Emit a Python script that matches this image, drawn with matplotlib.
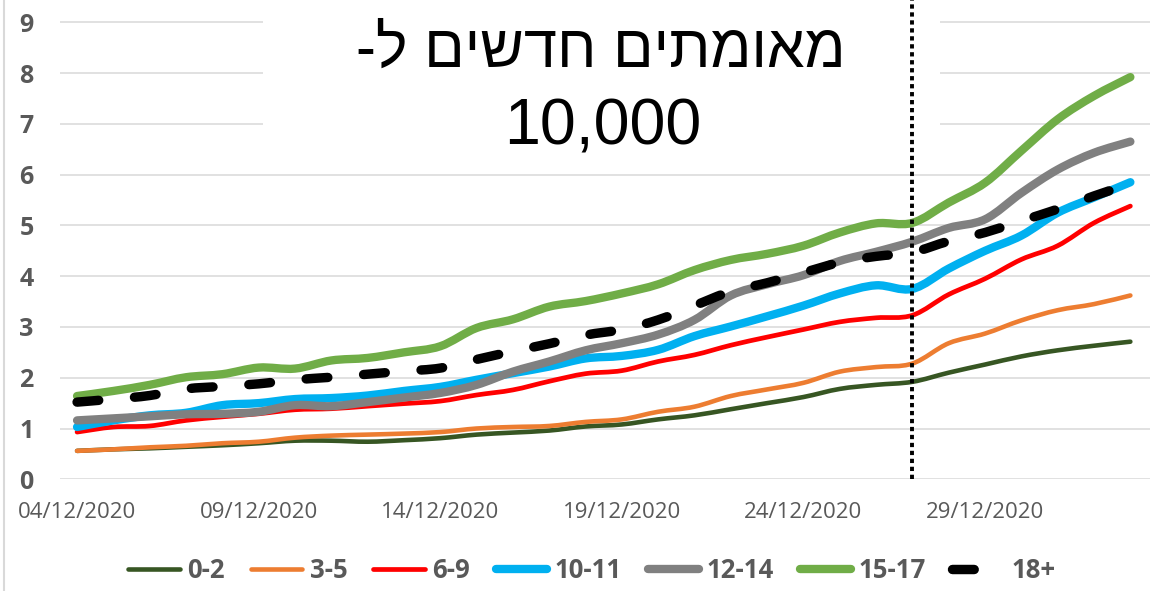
import numpy as np
import pandas as pd
import matplotlib
matplotlib.use("Agg")
import matplotlib.pyplot as plt
from matplotlib.lines import Line2D
from matplotlib.patches import Rectangle, PathPatch
from matplotlib.path import Path

# new confirmed cases per 10,000, by age group (Dec 2020 - Jan 2021)
dates = pd.date_range("2020-12-04", periods=30)
date_labels = [d.strftime("%d/%m/%Y") for d in dates]

groups = ["0-2", "3-5", "6-9", "10-11", "12-14", "15-17", "18+"]

age_0_2 = [0.56, 0.59, 0.61, 0.64, 0.67, 0.71, 0.76, 0.76, 0.74, 0.77,
           0.81, 0.88, 0.92, 0.96, 1.04, 1.08, 1.18, 1.26, 1.38, 1.50,
           1.62, 1.78, 1.86, 1.92, 2.10, 2.26, 2.42, 2.54, 2.63, 2.71]
age_3_5 = [0.56, 0.59, 0.63, 0.66, 0.71, 0.74, 0.82, 0.86, 0.88, 0.90,
           0.93, 1.00, 1.03, 1.05, 1.13, 1.18, 1.33, 1.43, 1.64, 1.77,
           1.90, 2.12, 2.21, 2.28, 2.68, 2.87, 3.13, 3.33, 3.45, 3.62]
age_6_9 = [0.93, 1.03, 1.05, 1.16, 1.23, 1.29, 1.37, 1.39, 1.44, 1.49,
           1.54, 1.66, 1.76, 1.93, 2.08, 2.14, 2.32, 2.45, 2.64, 2.80,
           2.95, 3.10, 3.18, 3.23, 3.64, 3.95, 4.33, 4.60, 5.05, 5.38]
age_10_11 = [1.03, 1.16, 1.26, 1.31, 1.46, 1.50, 1.58, 1.60, 1.65, 1.74,
             1.82, 1.96, 2.09, 2.22, 2.38, 2.43, 2.55, 2.82, 3.01, 3.21,
             3.42, 3.66, 3.82, 3.75, 4.15, 4.50, 4.80, 5.25, 5.55, 5.85]
age_12_14 = [1.16, 1.20, 1.24, 1.28, 1.29, 1.33, 1.46, 1.44, 1.52, 1.61,
             1.70, 1.86, 2.12, 2.32, 2.54, 2.68, 2.85, 3.14, 3.62, 3.84,
             4.02, 4.30, 4.48, 4.68, 4.95, 5.12, 5.64, 6.10, 6.43, 6.65]
age_15_17 = [1.64, 1.74, 1.86, 2.01, 2.07, 2.20, 2.18, 2.34, 2.39, 2.50,
             2.62, 2.98, 3.15, 3.40, 3.51, 3.66, 3.84, 4.12, 4.32, 4.44,
             4.60, 4.86, 5.04, 5.05, 5.45, 5.84, 6.47, 7.09, 7.55, 7.92]
age_18_plus = [1.52, 1.58, 1.65, 1.78, 1.83, 1.88, 1.96, 2.01, 2.07, 2.13,
               2.19, 2.36, 2.52, 2.67, 2.84, 2.95, 3.14, 3.42, 3.70, 3.87,
               4.07, 4.27, 4.39, 4.47, 4.69, 4.86, 5.09, 5.32, 5.58, 5.82]

series = [age_0_2, age_3_5, age_6_9, age_10_11, age_12_14, age_15_17, age_18_plus]
colors = ["#375623", "#ED7D31", "#FF0000", "#00B0F0", "#808080", "#70AD47", "#000000"]
widths = [3.3, 3.3, 3.4, 6.0, 6.0, 6.0, 6.8]

marker_day = "2020-12-27"   # dotted vertical line
title_he = "מאומתים חדשים ל-"
title_num = "10,000"

txt_gray = "#595959"
grid_gray = "#D9D9D9"


def smooth_path(xs, ys):
    # excel-like smoothed line: cubic bezier through every data point
    pts = np.column_stack([xs, ys]).astype(float)
    n = len(pts)
    verts = [pts[0]]
    codes = [Path.MOVETO]
    for i in range(n - 1):
        p0 = pts[max(i - 1, 0)]
        p1 = pts[i]
        p2 = pts[i + 1]
        p3 = pts[min(i + 2, n - 1)]
        verts += [p1 + (p2 - p0) / 6, p2 - (p3 - p1) / 6, p2]
        codes += [Path.CURVE4] * 3
    return Path(verts, codes)


plt.rcParams["font.family"] = ["Open Sans", "DejaVu Sans"]

fig = plt.figure(figsize=(11.65, 5.91), dpi=100)
ax = fig.add_axes([0.0515, 0.189, 0.9356, 0.812])

x = np.arange(len(dates))
handles = []
for vals, col, lw, name in zip(series, colors, widths, groups):
    if name == "18+":
        ls = (0, (2.3, 3.8))
        z = 4
    else:
        ls = "-"
        z = 3
    pp = PathPatch(smooth_path(x, vals), fill=False, edgecolor=col, lw=lw,
                   linestyle=ls, capstyle="round", joinstyle="round", zorder=z)
    ax.add_patch(pp)
    h = Line2D([], [], color=col, lw=lw, linestyle=ls,
               solid_capstyle="round", dash_capstyle="round")
    handles.append(h)

mx = list(dates).index(pd.Timestamp(marker_day))
ax.axvline(mx, color="black", lw=2.8, dashes=(1.1, 0.95), zorder=5)

ax.set_xlim(-0.47, 29.54)
ax.set_ylim(0, 9.45)
ax.set_yticks(range(0, 10))
ax.set_xticks(x[::5])
ax.set_xticklabels(date_labels[::5])
ax.tick_params(axis="x", length=0, pad=16, labelsize=16, labelcolor=txt_gray)
ax.tick_params(axis="y", length=0, pad=19, labelsize=18, labelcolor=txt_gray)
for lab in ax.get_yticklabels():
    lab.set_fontweight("bold")
ax.grid(axis="y", color=grid_gray, lw=1.1)
ax.set_axisbelow(True)
for s in ax.spines.values():
    s.set_visible(False)

# white box behind the title hides the upper gridlines
ax.add_patch(Rectangle((0.186, 0.686), 0.621, 0.32, transform=ax.transAxes,
                       facecolor="white", edgecolor="none", zorder=1.5, clip_on=False))

tfont = ["Liberation Sans", "DejaVu Sans"]
fig.text(0.516, 0.8866, title_he[::-1], ha="center", va="baseline",
         fontsize=43, family=tfont, color="black", zorder=10)
fig.text(0.517, 0.7563, title_num, ha="center", va="baseline",
         fontsize=46.5, family=tfont, color="black", zorder=10)

leg = fig.legend(handles=handles, labels=groups, loc="center", bbox_to_anchor=(0.508, 0.0355),
                 ncol=7, frameon=False, handlelength=2.0, handletextpad=0.3,
                 columnspacing=1.0, prop={"weight": "bold", "size": 18.5})
for t in leg.get_texts():
    t.set_color(txt_gray)

# thin border at the left edge
fig.add_artist(Line2D([0.0035, 0.0035], [0, 1], transform=fig.transFigure,
                      color=grid_gray, lw=1.5))

fig.savefig("out.png", dpi=100)
